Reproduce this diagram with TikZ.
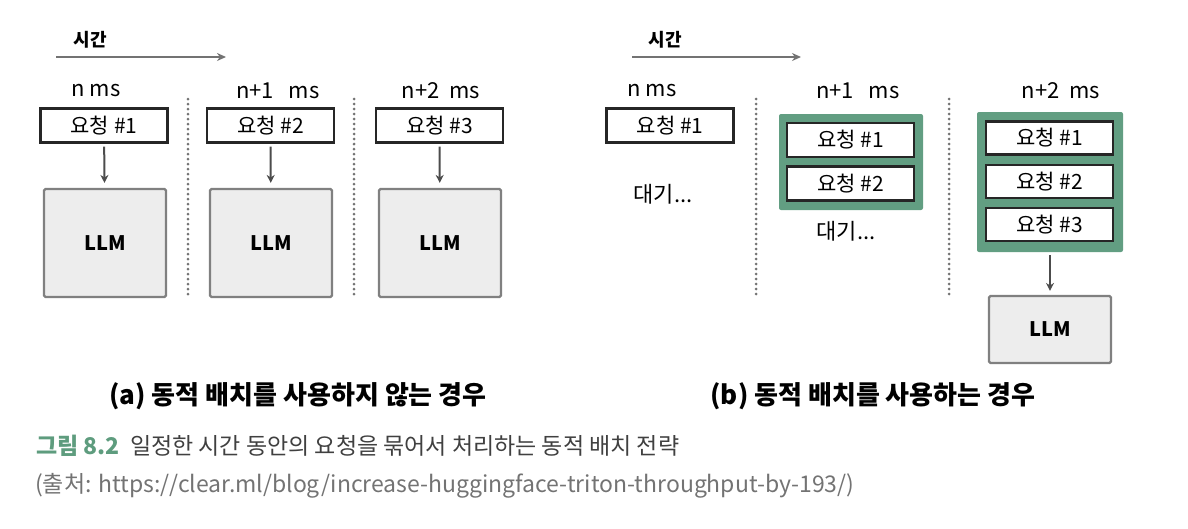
\documentclass[tikz,border=0pt]{standalone}
\usepackage{xcolor}
\usepackage{fontspec}
\setmainfont{Noto Sans CJK KR}
\usepackage{tikz}
\usetikzlibrary{arrows.meta}
\definecolor{batchgreen}{HTML}{629E82}
\definecolor{capgreen}{HTML}{5E9C7E}

\begin{document}
\begin{tikzpicture}[x=1pt,y=-1pt,every node/.style={inner sep=0pt},
   reqbox/.style={draw=black!85,line width=2.2pt,fill=white,minimum width=127pt,minimum height=34pt,font=\fontsize{21}{21}\selectfont},
   llmbox/.style={draw=black!50,line width=2.2pt,fill=black!7,rounded corners=1.5pt,minimum width=122pt,font=\bfseries\fontsize{20}{20}\selectfont},
   batchbox/.style={fill=batchgreen,rounded corners=2pt},
   msl/.style={font=\fontsize{22}{22}\selectfont},
   timel/.style={font=\bfseries\fontsize{18}{18}\selectfont},
   flow/.style={draw=black!70,line width=2pt,-{Stealth[length=8pt,width=8pt]}},
   timearrow/.style={draw=black!55,line width=2.5pt,-{Stealth[length=9pt,width=8pt]}},
   sep/.style={draw=black!55,line width=3pt,line cap=round,dash pattern=on 0pt off 5pt}]
   \useasboundingbox (0,0) rectangle (1188,528);
   % (a) without dynamic batching
   \node[timel] (ta) at (90,40) {시간};
   \coordinate (ta0) at (56,57);
   \coordinate (ta1) at (226,57);
   \draw[timearrow] (ta0) -- (ta1);
   \node[msl] (ams1) at (96,91) {n\ ms};
   \node[msl] (ams2) at (278,91) {n+1\ \ \ ms};
   \node[msl] (ams3) at (441,91) {n+2\ \ ms};
   \node[reqbox] (arq1) at (104,125.5) {요청 \#1};
   \node[reqbox] (arq2) at (270.5,125.5) {요청 \#2};
   \node[reqbox] (arq3) at (439.5,125.5) {요청 \#3};
   \node[llmbox,minimum height=108pt] (allm1) at (105,243) {LLM};
   \node[llmbox,minimum height=108pt] (allm2) at (271,243) {LLM};
   \node[llmbox,minimum height=108pt] (allm3) at (440,243) {LLM};
   \draw[flow,shorten <=3pt,shorten >=5pt] (arq1) -- (allm1);
   \draw[flow,shorten <=3pt,shorten >=5pt] (arq2) -- (allm2);
   \draw[flow,shorten <=3pt,shorten >=5pt] (arq3) -- (allm3);
   \coordinate (as1a) at (188,99);
   \coordinate (as1b) at (188,297);
   \coordinate (as2a) at (354,99);
   \coordinate (as2b) at (354,297);
   \draw[sep] (as1a) -- (as1b);
   \draw[sep] (as2a) -- (as2b);
   \node[font=\bfseries\fontsize{26}{26}\selectfont] (acap) at (298,396) {(a) 동적 배치를 사용하지 않는 경우};
   % (b) with dynamic batching
   \node[timel] (tb) at (665,40) {시간};
   \coordinate (tb0) at (632,57);
   \coordinate (tb1) at (801,57);
   \draw[timearrow] (tb0) -- (tb1);
   \node[msl] (bms1) at (652,91) {n\ ms};
   \node[msl] (bms2) at (858,91) {n+1\ \ \ ms};
   \node[msl] (bms3) at (1061,91) {n+2\ \ ms};
   \node[reqbox] (brq1) at (670,125.5) {요청 \#1};
   \node[msl] (bw1) at (663,194) {대기...};
   \node[batchbox,minimum width=144pt,minimum height=96pt] (bg1) at (851,162) {};
   \node[reqbox] (bg1r1) at (850.5,140) {요청 \#1};
   \node[reqbox] (bg1r2) at (850.5,183.5) {요청 \#2};
   \node[msl] (bw2) at (846,231) {대기...};
   \node[batchbox,minimum width=146pt,minimum height=140pt] (bg2) at (1050,182) {};
   \node[reqbox,minimum height=33pt] (bg2r1) at (1049.5,138) {요청 \#1};
   \node[reqbox,minimum height=33pt] (bg2r2) at (1049.5,181.5) {요청 \#2};
   \node[reqbox,minimum height=33pt] (bg2r3) at (1049.5,224.5) {요청 \#3};
   \node[llmbox,minimum height=67pt] (bllm) at (1050,329.5) {LLM};
   \draw[flow,shorten <=3pt,shorten >=4pt] (bg2.south -| bllm) -- (bllm);
   \coordinate (bs1a) at (756,99);
   \coordinate (bs1b) at (756,297);
   \coordinate (bs2a) at (949,99);
   \coordinate (bs2b) at (949,297);
   \draw[sep] (bs1a) -- (bs1b);
   \draw[sep] (bs2a) -- (bs2b);
   \node[font=\bfseries\fontsize{26}{26}\selectfont] (bcap) at (873,396) {(b) 동적 배치를 사용하는 경우};
   % figure caption
   \node[anchor=west,font=\fontsize{23}{23}\selectfont,text=black!75] (fig) at (36,446) {\textcolor{capgreen}{\bfseries 그림 8.2}\ \ 일정한 시간 동안의 요청을 묶어서 처리하는 동적 배치 전략};
   \node[anchor=west,font=\fontsize{23}{23}\selectfont,text=black!55] (src) at (35,486) {(출처: https://clear.ml/blog/increase-huggingface-triton-throughput-by-193/)};
\end{tikzpicture}
\end{document}
